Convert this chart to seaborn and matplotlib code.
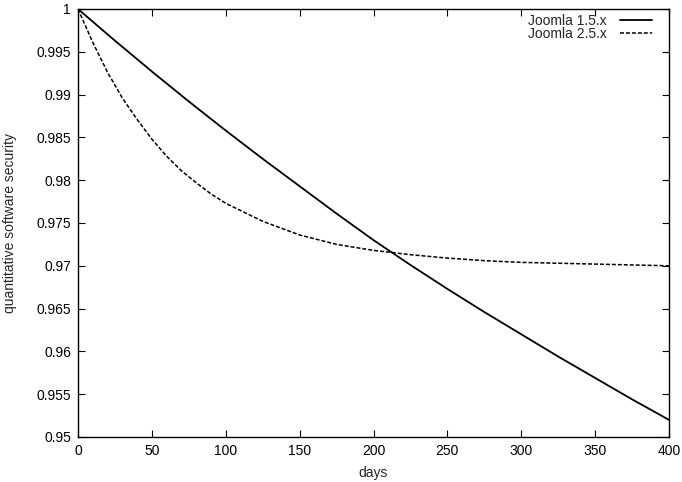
import pandas as pd
import matplotlib
matplotlib.use("Agg")
import matplotlib.pyplot as plt
import seaborn as sns

# values
days_15 = [0, 25, 50, 75, 100, 125, 150, 175, 200, 225, 250, 275, 300, 325, 350, 375, 400]
joomla_15 = [1.0, 0.9963, 0.9927, 0.9892, 0.9858, 0.9825, 0.9793, 0.9761, 0.9730,
             0.9701, 0.9673, 0.9646, 0.9620, 0.9594, 0.9569, 0.9544, 0.9520]

days_25 = [0, 10, 20, 30, 40, 50, 60, 70, 80, 90, 100, 125, 150, 175, 200, 225,
           250, 275, 300, 325, 350, 375, 400]
joomla_25 = [1.0, 0.9961, 0.9926, 0.9896, 0.9871, 0.9848, 0.9828, 0.9811, 0.9797,
             0.9784, 0.9773, 0.9752, 0.9736, 0.9725, 0.9718, 0.9713, 0.9709,
             0.9706, 0.9704, 0.9703, 0.9702, 0.9701, 0.9700]

x_ticks = [0, 50, 100, 150, 200, 250, 300, 350, 400]
y_ticks = [0.95, 0.955, 0.96, 0.965, 0.97, 0.975, 0.98, 0.985, 0.99, 0.995, 1.0]

sns.set_style("ticks")
plt.rcParams['font.family'] = ['Liberation Sans', 'DejaVu Sans']
plt.rcParams['font.size'] = 10

df15 = pd.DataFrame({'days': days_15, 'security': joomla_15})
df25 = pd.DataFrame({'days': days_25, 'security': joomla_25})

fig = plt.figure(figsize=(6.82, 4.82), dpi=100)
ax = fig.add_axes([78 / 682, 45 / 482, 591 / 682, 428 / 482])

sns.lineplot(data=df15, x='days', y='security', color='black', linewidth=1.3,
             label='Joomla 1.5.x', ax=ax)
sns.lineplot(data=df25, x='days', y='security', color='black', linewidth=1.1,
             linestyle=(0, (2.6, 1.3)), label='Joomla 2.5.x', ax=ax)

ax.set_xlim(0, 400)
ax.set_ylim(0.95, 1.0)
ax.set_xticks(x_ticks)
ax.set_yticks(y_ticks)
ax.set_xticklabels([f'{v:g}' for v in x_ticks])
ax.set_yticklabels([f'{v:g}' for v in y_ticks])
ax.tick_params(direction='in', top=True, right=True, length=5, width=0.8,
               colors='black', labelsize=10, pad=5)
for s in ax.spines.values():
    s.set_linewidth(1.0)
    s.set_color('black')

ax.set_xlabel('days', fontsize=10, labelpad=6)
ax.set_ylabel('quantitative software security', fontsize=10, labelpad=14)

leg = ax.legend(loc='upper right', frameon=False, markerfirst=False,
                handlelength=2.3, handletextpad=0.95, labelspacing=-0.1,
                borderpad=0, borderaxespad=0, fontsize=10,
                bbox_to_anchor=(652 / 682, 1 - 14 / 482),
                bbox_transform=fig.transFigure)

fig.savefig('out.png', dpi=100)
